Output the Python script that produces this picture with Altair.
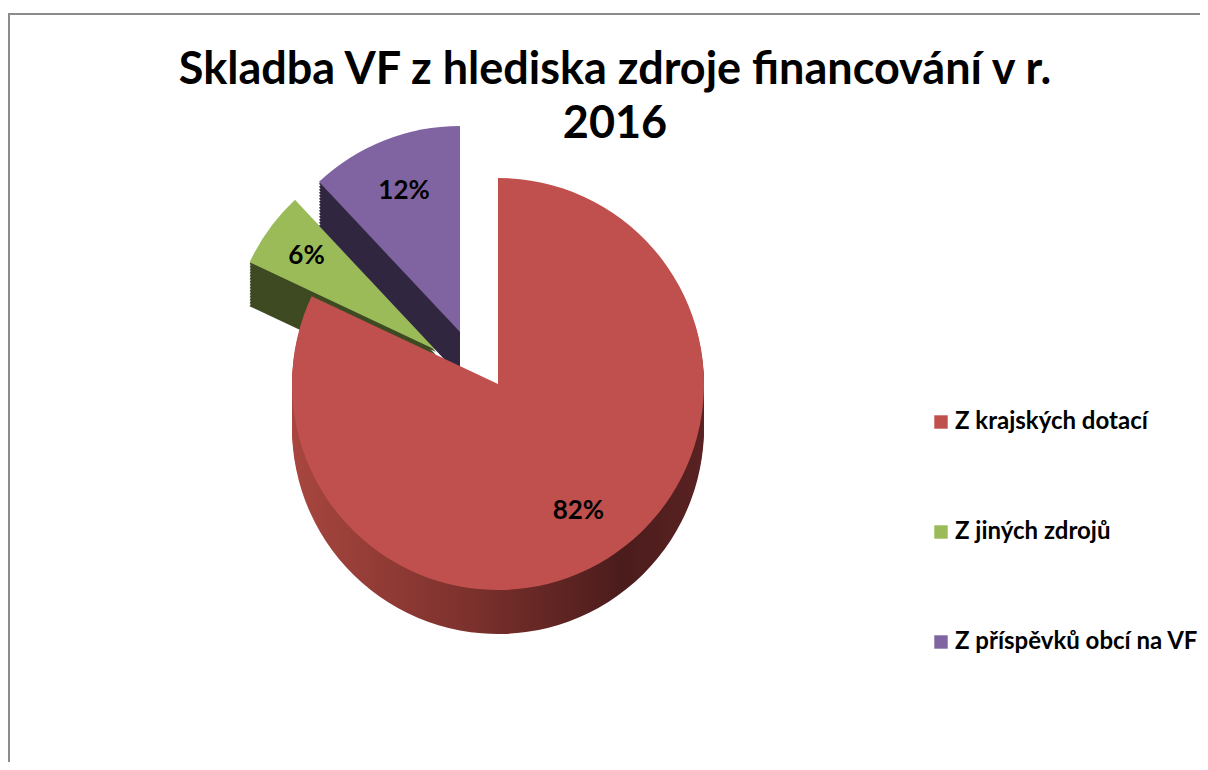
import math
import altair as alt
import pandas as pd

# ---- data ----
categories = ["Z krajských dotací", "Z jiných zdrojů", "Z příspěvků obcí na VF"]
shares = [82, 6, 12]
share_labels = ["82%", "6%", "12%"]
title_lines = ["Skladba VF z hlediska zdroje financování v r.", "2016"]

# ---- styles ----
top_colors = ["#C0504D", "#9BBB59", "#8064A2"]
FONT = "Lato"
R = 206
DEPTH = 44
CX, CY = 490, 376
# explode offsets per slice (style)
offsets = {0: (0, 0), 1: (-62, -34), 2: (-38, -52)}
side_fills = {
    0: alt.LinearGradient(
        gradient="linear", x1=0, x2=1, y1=0, y2=0,
        stops=[alt.GradientStop(offset=0, color="#A8463F"),
               alt.GradientStop(offset=0.45, color="#7A302C"),
               alt.GradientStop(offset=0.8, color="#4B1C1C"),
               alt.GradientStop(offset=1, color="#5A2222")]),
    1: "#3E4A22",
    2: "#30263F",
}
label_radius = {0: 150, 1: 160, 2: 152}

df = pd.DataFrame({"cat": categories, "value": shares, "label": share_labels,
                   "order": list(range(len(categories)))})

base = (alt.Chart(df)
        .transform_window(cum="sum(value)", sort=[alt.SortField("order")])
        .transform_calculate(start="datum.cum - datum.value",
                             end="datum.cum",
                             mid="datum.cum - datum.value / 2"))

theta_scale = alt.Scale(domain=[0, 100], range=[0, 2 * math.pi])
color_scale = alt.Scale(domain=categories, range=top_colors)
legend = alt.Legend(orient="none", legendX=921, legendY=402)

layers = []
for i in [1, 2, 0]:
    sub = base.transform_filter(alt.datum.cat == categories[i])
    cx = CX + offsets[i][0]
    cy = CY + offsets[i][1]
    for d in range(DEPTH, 0, -3):
        layers.append(
            sub.mark_arc(radius=R, fill=side_fills[i])
            .encode(theta=alt.Theta("start:Q", scale=theta_scale, stack=False),
                    theta2="end:Q",
                    x=alt.value(cx), y=alt.value(cy + d)))
    layers.append(
        sub.mark_arc(radius=R)
        .encode(theta=alt.Theta("start:Q", scale=theta_scale, stack=False),
                theta2="end:Q",
                color=alt.Color("cat:N", scale=color_scale, legend=legend, title=None),
                x=alt.value(cx), y=alt.value(cy)))

for i in [1, 2, 0]:
    sub = base.transform_filter(alt.datum.cat == categories[i])
    cx = CX + offsets[i][0]
    cy = CY + offsets[i][1]
    layers.append(
        sub.mark_text(radius=label_radius[i], font=FONT, fontSize=26, fontWeight="bold",
                      color="black")
        .encode(theta=alt.Theta("mid:Q", scale=theta_scale, stack=False), text="label:N",
                x=alt.value(cx), y=alt.value(cy)))

dummy = pd.DataFrame({"k": [0]})
title_layer = (alt.Chart(dummy)
               .mark_text(font=FONT, fontSize=45, fontWeight="bold", color="black",
                          lineBreak="\n", lineHeight=54, align="center", baseline="alphabetic")
               .encode(text=alt.value("\n".join(title_lines)),
                       x=alt.value(607), y=alt.value(76)))

border_top = (alt.Chart(dummy).mark_rule(color="#8C8C8C", strokeWidth=2)
              .encode(x=alt.value(0), x2=alt.value(1192), y=alt.value(6)))
border_left = (alt.Chart(dummy).mark_rule(color="#8C8C8C", strokeWidth=2)
               .encode(x=alt.value(1), y=alt.value(6), y2=alt.value(754)))

chart = (alt.layer(border_top, border_left, title_layer, *layers)
         .properties(width=1192, height=754, autosize=alt.AutoSizeParams(type="none"),
                     padding=0, background="white")
         .configure_view(strokeWidth=0)
         .configure_legend(symbolType="square", symbolSize=180, symbolStrokeWidth=0,
                           labelFont=FONT, labelFontSize=24, labelFontWeight="bold",
                           labelColor="black", rowPadding=86, labelOffset=2,
                           labelLimit=400, padding=0))

chart.save("out.html", embed_options={"renderer": "svg", "actions": False})
